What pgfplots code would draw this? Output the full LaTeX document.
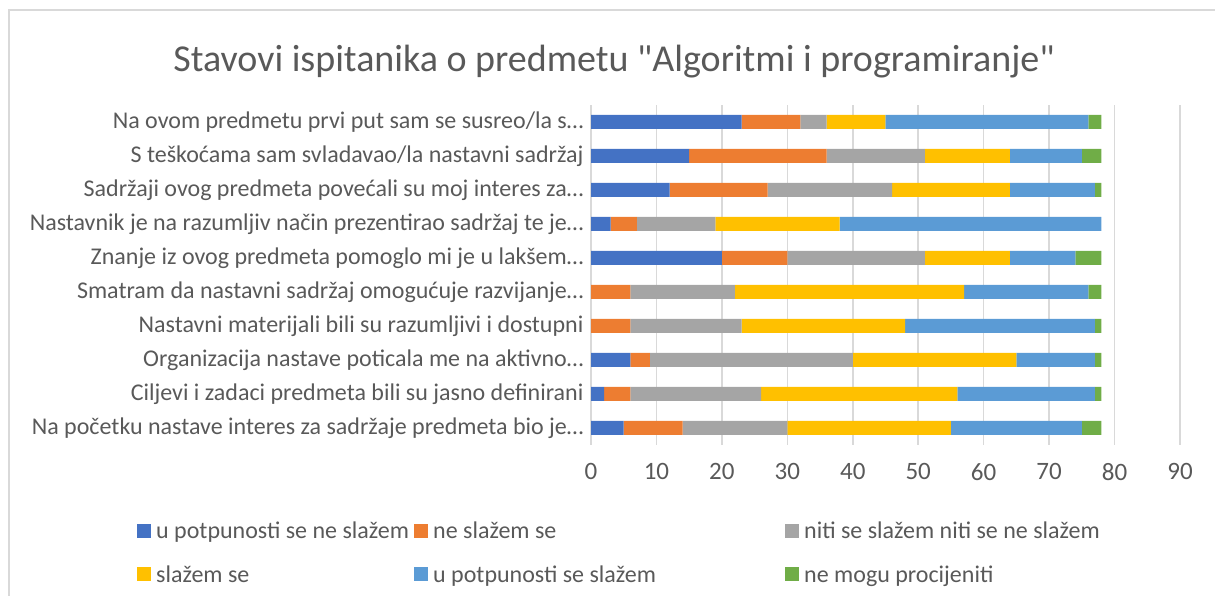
\documentclass[border=0pt]{standalone}
\usepackage{pgfplots}
\pgfplotsset{compat=1.18}
\usepackage{pgfplotstable}
\usepackage{fontspec}
\setmainfont{Carlito}
\newfontfamily\titlefont{Carlito}[Ligatures=TeXOff]
\definecolor{c1}{HTML}{4472C4}
\definecolor{c2}{HTML}{ED7D31}
\definecolor{c3}{HTML}{A5A5A5}
\definecolor{c4}{HTML}{FFC000}
\definecolor{c5}{HTML}{5B9BD5}
\definecolor{c6}{HTML}{70AD47}
\definecolor{txt}{HTML}{595959}
\definecolor{gridc}{HTML}{D9D9D9}
\pgfplotstableread{
y a b c d e f
0 5 9 16 25 20 3
1 2 4 20 30 21 1
2 6 3 31 25 12 1
3 0 6 17 25 29 1
4 0 6 16 35 19 2
5 20 10 21 13 10 4
6 3 4 12 19 40 0
7 12 15 19 18 13 1
8 15 21 15 13 11 3
9 23 9 4 9 31 2
}\data
\begin{document}
\begin{tikzpicture}[x=1pt,y=1pt]
\useasboundingbox (0,0) rectangle (1215,596);
\clip (0,0) rectangle (1215,596);
\draw[gridc, line width=1.5pt] (9,-20) -- (9,586) -- (1240,586);
\node[text=txt, font=\titlefont\fontsize{38}{42}\selectfont] at (614,534) {Stavovi ispitanika o predmetu "Algoritmi i programiranje"};
\begin{axis}[
  at={(591pt,151pt)}, anchor=south west,
  scale only axis, width=589pt, height=340pt,
  xbar stacked, bar width=14pt,
  xmin=0, xmax=90, ymin=-0.5, ymax=9.5,
  xtick={0,10,...,90},
  ytick={0,...,9},
  yticklabels={
    {Na početku nastave interes za sadržaje predmeta bio je…},
    {Ciljevi i zadaci predmeta bili su jasno definirani\hspace{16pt}},
    {Organizacija nastave poticala me na aktivno…},
    {Nastavni materijali bili su razumljivi i dostupni\hspace{16pt}},
    {Smatram da nastavni sadržaj omogućuje razvijanje…},
    {Znanje iz ovog predmeta pomoglo mi je u lakšem…},
    {Nastavnik je na razumljiv način prezentirao sadržaj te je…},
    {Sadržaji ovog predmeta povećali su moj interes za…},
    {S teškoćama sam svladavao/la nastavni sadržaj\hspace{16pt}},
    {Na ovom predmetu prvi put sam se susreo/la s…}},
  axis line style={draw=none},
  major tick length=0pt,
  xmajorgrids, grid style={gridc, line width=1.5pt},
  /pgf/number format/assume math mode=true,
  tick label style={text=txt},
  yticklabel style={xshift=-4pt, font=\fontsize{24}{28}\selectfont},
  xticklabel style={yshift=-15pt, font=\fontsize{25}{28}\selectfont},
  every axis plot/.append style={draw=none},
  legend columns=3,
  legend style={at={(-0.7708,-0.2265)}, anchor=north west, draw=none, fill=none,
    font=\fontsize{24}{28}\selectfont, text=txt, inner sep=0pt,
    column sep=0pt, row sep=25pt,
    nodes={inner sep=0pt}},
  legend image code/.code={\fill[#1] (0pt,-7pt) rectangle (14pt,7pt);},
]
\addplot[fill=c1] table[x=a,y=y]{\data};
\addplot[fill=c2] table[x=b,y=y]{\data};
\addplot[fill=c3] table[x=c,y=y]{\data};
\addplot[fill=c4] table[x=d,y=y]{\data};
\addplot[fill=c5] table[x=e,y=y]{\data};
\addplot[fill=c6] table[x=f,y=y]{\data};
\legend{\hspace{5pt}\makebox[258pt][l]{u potpunosti se ne slažem},
        \hspace{5pt}\makebox[352pt][l]{ne slažem se},
        \hspace{5pt}\makebox[300pt][l]{niti se slažem niti se ne slažem},
        \hspace{5pt}\makebox[258pt][l]{slažem se},
        \hspace{5pt}\makebox[352pt][l]{u potpunosti se slažem},
        \hspace{5pt}\makebox[300pt][l]{ne mogu procijeniti}}
\end{axis}
\end{tikzpicture}
\end{document}
